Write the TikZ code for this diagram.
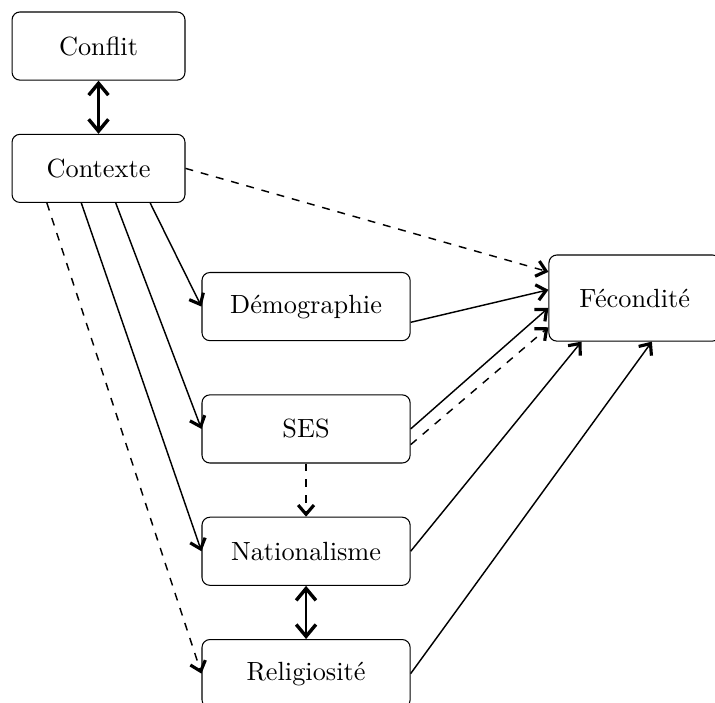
\documentclass[tikz,border=0pt]{standalone}
\usepackage{tikz}
\usetikzlibrary{arrows.meta,positioning}
\tikzset{
	boite/.style={draw, rounded corners=3pt, minimum width=2.31cm, minimum height=0.91cm, inner sep=2pt},
	large/.style={boite, minimum width=2.78cm},
	fleche/.style={-{Straight Barb[length=3.5pt,width=6pt,line width=1.2pt]}, line width=0.55pt},
	bifleche/.style={{Straight Barb[length=4.5pt,width=7.5pt,line width=1.3pt]}-{Straight Barb[length=4.5pt,width=7.5pt,line width=1.3pt]}, line width=0.8pt}
}

\begin{document}
\begin{tikzpicture}[node distance=0.71cm]
			%%%%% START %%%%%
			\useasboundingbox (0, 0) rectangle (9.55, -9.38);
			
			\node[boite] (con) at (1.316, -0.615) {Conflit};
			\node[boite, below=of con] (ctx) {Contexte};
			
			\node[large] (dem) at (4.088, -4.095) {Démographie};
			\node[large, below=of dem] (ses) {SES};
			\node[large, below=of ses] (nat) {Nationalisme};
			\node[large, below=of nat] (rel) {Religiosité};
			
			\node[boite, minimum width=2.29cm, minimum height=1.15cm] (fec) at (8.477, -3.981) {Fécondité};
			
			\coordinate (c1) at ([xshift=-0.69cm]ctx.south);
			\coordinate (c2) at ([xshift=-0.23cm]ctx.south);
			\coordinate (c3) at ([xshift=0.23cm]ctx.south);
			\coordinate (c4) at ([xshift=0.69cm]ctx.south);
			
			\coordinate (f1) at ([yshift=0.35cm]fec.west);
			\coordinate (f2) at ([yshift=0.11cm]fec.west);
			\coordinate (f3) at ([yshift=-0.13cm]fec.west);
			\coordinate (f4) at ([yshift=-0.39cm]fec.west);
			\coordinate (f5) at ([xshift=-0.71cm]fec.south);
			\coordinate (f6) at ([xshift=0.23cm]fec.south);
			
			\draw[bifleche] (con) -- (ctx);
			\draw[bifleche] (nat) -- (rel);
			\draw[fleche, dashed] (ses) -- (nat);
			
			\draw[fleche, dashed] (c1) -- (rel.west);
			\draw[fleche] (c2) -- (nat.west);
			\draw[fleche] (c3) -- (ses.west);
			\draw[fleche] (c4) -- (dem.west);
			
			\draw[fleche, dashed] (ctx.east) -- (f1);
			\draw[fleche] ([yshift=-0.21cm]dem.east) -- (f2);
			\draw[fleche] (ses.east) -- (f3);
			\draw[fleche, dashed] ([yshift=-0.21cm]ses.east) -- (f4);
			\draw[fleche] (nat.east) -- (f5);
			\draw[fleche] (rel.east) -- (f6);
			
			%%%%% END %%%%%
\end{tikzpicture}
\end{document}
